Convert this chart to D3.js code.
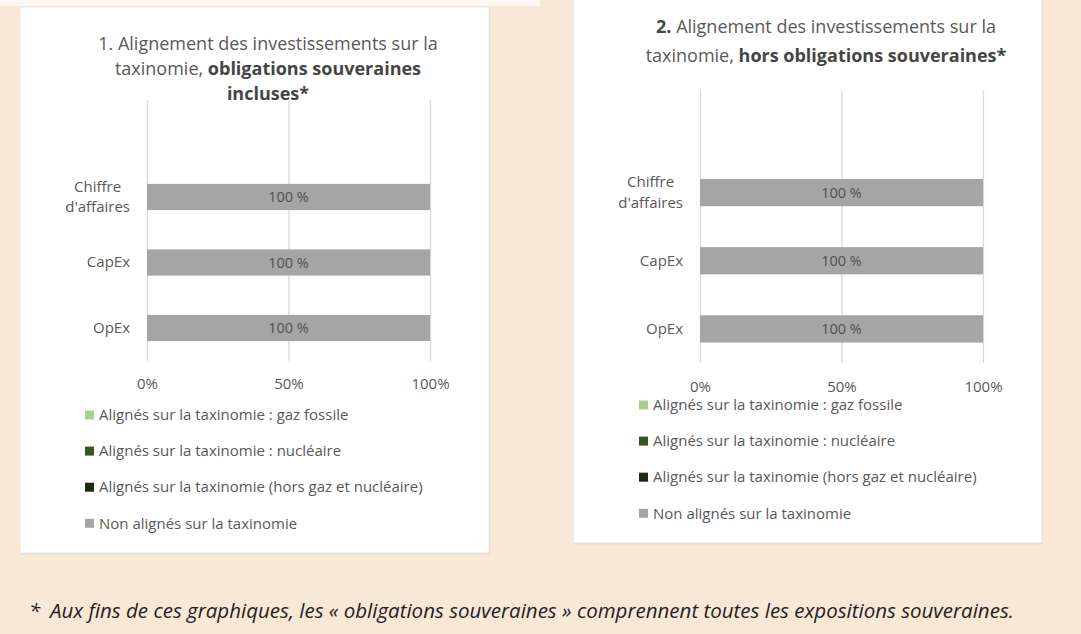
<!DOCTYPE html>
<html>
<head>
<meta charset="utf-8">
<script src="https://cdn.jsdelivr.net/npm/d3@7"></script>
<style>
  body { margin: 0; background: #fae8d6; }
  svg { display: block; font-family: "Open Sans", Lato, sans-serif; }
</style>
</head>
<body>
<svg id="viz" width="1081" height="634"></svg>
<script>
// categories and series (values in %)
const categories = ["Chiffre d'affaires", "CapEx", "OpEx"];
const seriesNames = [
  "Alignés sur la taxinomie : gaz fossile",
  "Alignés sur la taxinomie : nucléaire",
  "Alignés sur la taxinomie (hors gaz et nucléaire)",
  "Non alignés sur la taxinomie"
];
const seriesKeys = ["gaz", "nucleaire", "horsGaz", "nonAlignes"];
const seriesColors = ["#a9d18e", "#375623", "#1b2a12", "#a5a5a5"];

// chart 1 : obligations souveraines incluses
const gaz1 = [0, 0, 0];
const nucleaire1 = [0, 0, 0];
const horsGaz1 = [0, 0, 0];
const nonAlignes1 = [100, 100, 100];

// chart 2 : hors obligations souveraines
const gaz2 = [0, 0, 0];
const nucleaire2 = [0, 0, 0];
const horsGaz2 = [0, 0, 0];
const nonAlignes2 = [100, 100, 100];

const xTicks = [0, 50, 100];

const title1 = [
  [{ t: "1. Alignement des investissements sur la" }],
  [{ t: "taxinomie, " }, { t: "obligations souveraines", b: true }],
  [{ t: "incluses*", b: true }]
];
const title2 = [
  [{ t: "2.", b: true }, { t: " Alignement des investissements sur la" }],
  [{ t: "taxinomie, " }, { t: "hors obligations souveraines*", b: true }]
];
const footnote = "Aux fins de ces graphiques, les « obligations souveraines » comprennent toutes les expositions souveraines.";

const TEXT = "#595959";
const AXIS_FONT = "15px";
const svg = d3.select("#viz");

svg.append("rect").attr("width", 1081).attr("height", 634).attr("fill", "#fae8d6");
svg.append("rect").attr("width", 540).attr("height", 6).attr("fill", "#fdf8f3");

function rows(g, h, n, nn)
{
  return categories.map((c, i) => ({ cat: c, gaz: g[i], nucleaire: h[i], horsGaz: n[i], nonAlignes: nn[i] }));
}

const panels = [
  {
    box: [20, 7, 469, 546], titleX: 268, titleY: [43.5, 68.5, 93.5], title: title1,
    x0: 147, x1: 430, gridTop: 100, bandTop: 164.25, bandBottom: 360.75,
    legendX: 85, legendY: 415,
    data: rows(gaz1, nucleaire1, horsGaz1, nonAlignes1)
  },
  {
    box: [573, -5, 469, 548], titleX: 826, titleY: [27, 55.5], title: title2,
    x0: 700, x1: 983, gridTop: 90, bandTop: 158.5, bandBottom: 363,
    legendX: 639, legendY: 405,
    data: rows(gaz2, nucleaire2, horsGaz2, nonAlignes2)
  }
];

function drawPanel(p)
{
  const g = svg.append("g");

  // white card with a soft edge
  g.append("rect")
    .attr("x", p.box[0] + 1).attr("y", p.box[1] + 1.5)
    .attr("width", p.box[2]).attr("height", p.box[3])
    .attr("fill", "#e4dbd2");
  g.append("rect")
    .attr("x", p.box[0]).attr("y", p.box[1])
    .attr("width", p.box[2]).attr("height", p.box[3])
    .attr("fill", "#fff")
    .attr("stroke", "#e6e6e6");

  // title
  p.title.forEach((line, i) => {
    const t = g.append("text")
      .attr("x", p.titleX).attr("y", p.titleY[i]).attr("dy", "0.35em")
      .attr("text-anchor", "middle")
      .style("font-size", "18px")
      .style("fill", TEXT);
    line.forEach(part => {
      t.append("tspan").text(part.t)
        .style("font-weight", part.b ? "bold" : "normal")
        .style("fill", part.b ? "#454545" : TEXT);
    });
  });

  const x = d3.scaleLinear().domain([0, 100]).range([p.x0, p.x1]);
  const y = d3.scaleBand().domain(categories).range([p.bandTop, p.bandBottom])
    .paddingInner(0.6).paddingOuter(0.3);

  // gridlines
  const grid = g.append("g")
    .attr("transform", "translate(0," + p.gridTop + ")")
    .call(d3.axisBottom(x).tickValues(xTicks).tickSize(p.bandBottom - p.gridTop).tickFormat(""));
  grid.select(".domain").remove();
  grid.selectAll("line").attr("stroke", "#d9d9d9").attr("stroke-width", 1.3);

  // tick labels
  const xa = g.append("g")
    .attr("transform", "translate(0," + p.bandBottom + ")")
    .call(d3.axisBottom(x).tickValues(xTicks).tickSize(0).tickPadding(18).tickFormat(d => d + "%"))
    .attr("font-family", null).attr("font-size", null);
  xa.select(".domain").remove();
  xa.selectAll("text").style("font-size", AXIS_FONT).style("fill", TEXT);

  // category labels (long ones wrap on two centred lines, like Excel)
  const ya = g.append("g")
    .attr("transform", "translate(" + (p.x0 - 17) + ",0)")
    .call(d3.axisLeft(y).tickSize(0).tickPadding(0))
    .attr("font-family", null).attr("font-size", null);
  ya.select(".domain").remove();
  ya.selectAll("text")
    .style("font-size", AXIS_FONT).style("fill", TEXT)
    .each(function(d) {
      const cut = d.indexOf(" ");
      if (d.length < 10 || cut < 0) return;
      const el = d3.select(this).text(null).attr("dy", null);
      const spans = [d.slice(0, cut), d.slice(cut + 1)].map((w, i) =>
        el.append("tspan").attr("x", 0)
          .attr("dy", i === 0 ? "-0.36em" : "1.36em")
          .text(w));
      const maxW = d3.max(spans, s => s.node().getComputedTextLength());
      el.attr("text-anchor", "middle");
      spans.forEach(s => s.attr("x", -maxW / 2));
    });

  // stacked bars
  const stack = d3.stack().keys(["horsGaz", "nucleaire", "gaz", "nonAlignes"]);
  const layers = stack(p.data);
  layers.forEach(layer => {
    const color = seriesColors[seriesKeys.indexOf(layer.key)];
    g.append("g").selectAll("rect")
      .data(layer)
      .join("rect")
      .attr("x", d => x(d[0]))
      .attr("y", d => y(d.data.cat))
      .attr("width", d => x(d[1]) - x(d[0]))
      .attr("height", y.bandwidth())
      .attr("fill", color);
    g.append("g").selectAll("text")
      .data(layer.filter(d => d[1] - d[0] > 0))
      .join("text")
      .attr("x", d => x((d[0] + d[1]) / 2))
      .attr("y", d => y(d.data.cat) + y.bandwidth() / 2)
      .attr("dy", "0.35em")
      .attr("text-anchor", "middle")
      .style("font-size", "14.5px")
      .style("fill", "#505050")
      .text(d => (d[1] - d[0]) + "\u00a0%");
  });

  // legend
  const leg = g.append("g").selectAll("g")
    .data(seriesNames)
    .join("g")
    .attr("transform", (d, i) => "translate(" + p.legendX + "," + (p.legendY + i * 36.1) + ")");
  leg.append("rect")
    .attr("x", 0).attr("y", -4.5).attr("width", 9).attr("height", 9)
    .attr("fill", (d, i) => seriesColors[i]);
  leg.append("text")
    .attr("x", 14).attr("dy", "0.35em")
    .style("font-size", "15px").style("fill", TEXT)
    .text(d => d);
}

panels.forEach(drawPanel);

// footnote
svg.append("text").attr("x", 29).attr("y", 611).attr("dy", "0.35em")
  .style("font-size", "20.5px").style("font-style", "italic").style("fill", "#222")
  .text("*");
svg.append("text").attr("x", 50).attr("y", 611).attr("dy", "0.35em")
  .style("font-size", "20.5px").style("font-style", "italic").style("fill", "#222")
  .text(footnote);
</script>
</body>
</html>
